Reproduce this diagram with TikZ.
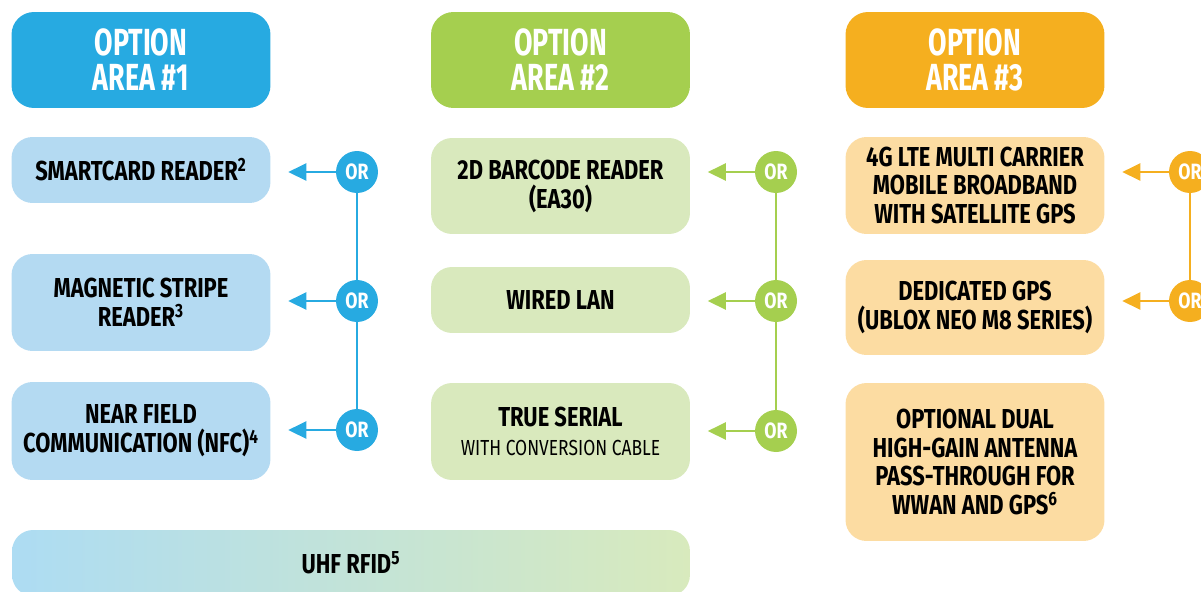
\documentclass[tikz,border=0pt]{standalone}
\usepackage{fontspec}
\newfontfamily\condfont[FakeStretch=0.8]{Fira Sans}
\newfontfamily\headfont[FakeStretch=0.71]{Fira Sans}
\usetikzlibrary{positioning, arrows.meta}

\definecolor{bluedark}{RGB}{39,170,225}
\definecolor{bluelight}{RGB}{180,218,242}
\definecolor{greendark}{RGB}{165,207,79}
\definecolor{greenlight}{RGB}{217,233,189}
\definecolor{orangedark}{RGB}{245,175,31}
\definecolor{orangelight}{RGB}{252,220,162}
\definecolor{uhfleft}{RGB}{173,220,243}
\definecolor{uhfright}{RGB}{216,234,189}

\begin{document}
\begin{tikzpicture}[
    x=0.02cm, y=-0.02cm,
    head/.style={
        rectangle,
        rounded corners=0.45cm,
        minimum width=5.18cm,
        minimum height=1.92cm,
        align=center,
        text=white,
        font=\headfont\bfseries\fontsize{21.5}{20}\selectfont
    },
    item/.style={
        rectangle,
        rounded corners=0.42cm,
        minimum width=5.18cm,
        align=center,
        text=black,
        inner sep=2pt,
        font=\condfont\bfseries\fontsize{15.6}{16.5}\selectfont
    },
    ornode/.style={
        circle,
        minimum size=0.84cm,
        inner sep=0pt,
        text=white,
        font=\condfont\bfseries\fontsize{12.6}{12}\selectfont
    },
    orline/.style={line width=0.055cm},
    orarrow/.style={-{Triangle[length=0.36cm, width=0.34cm]}, line width=0.055cm, shorten >=0.35cm}
]

\useasboundingbox (0,0) rectangle (1201,592);
\clip (0,0) rectangle (1201,592);

% Option area headers
\node[head, fill=bluedark] (area1) at (141,60) {OPTION\\AREA \#1};
\node[head, fill=greendark] (area2) at (560.5,60) {OPTION\\AREA \#2};
\node[head, fill=orangedark] (area3) at (975,60) {OPTION\\AREA \#3};

% Option area 1
\node[item, fill=bluelight, minimum height=1.32cm] (smart) at (141,170) {SMARTCARD READER\textsuperscript{2}};
\node[item, fill=bluelight, minimum height=1.94cm] (magstripe) at (141,302.5) {MAGNETIC STRIPE\\READER\textsuperscript{3}};
\node[item, fill=bluelight, minimum height=1.96cm] (nfc) at (141,431) {NEAR FIELD\\COMMUNICATION (NFC)\textsuperscript{4}};

% Option area 2
\node[item, fill=greenlight, minimum height=1.92cm] (barcode) at (560.5,186) {2D BARCODE READER\\(EA30)};
\node[item, fill=greenlight, minimum height=1.32cm] (lan) at (560.5,300) {WIRED LAN};
\node[item, fill=greenlight, minimum height=1.94cm] (serial) at (560.5,431.5) {TRUE SERIAL\\{\mdseries\fontsize{12.4}{16}\selectfont WITH CONVERSION CABLE}};

% Option area 3
\node[item, fill=orangelight, minimum height=1.94cm] (lte) at (975,185.5) {4G LTE MULTI CARRIER\\MOBILE BROADBAND\\WITH SATELLITE GPS};
\node[item, fill=orangelight, minimum height=1.9cm] (gps) at (975,307.5) {DEDICATED GPS\\(UBLOX NEO M8 SERIES)};
\node[item, fill=orangelight, minimum height=3.16cm] (antenna) at (975,462) {OPTIONAL DUAL\\HIGH-GAIN ANTENNA\\PASS-THROUGH FOR\\WWAN AND GPS\textsuperscript{6}};

% Shared across areas 1 and 2
\node[item, left color=uhfleft, right color=uhfright, minimum width=13.56cm, minimum height=1.32cm] (uhf) at (351,563) {UHF RFID\textsuperscript{5}};

% OR selectors
\node[ornode, fill=bluedark] (or1a) at (357,172) {OR};
\node[ornode, fill=bluedark] (or1b) at (357,301) {OR};
\node[ornode, fill=bluedark] (or1c) at (357,430) {OR};
\node[ornode, fill=greendark] (or2a) at (776,172) {OR};
\node[ornode, fill=greendark] (or2b) at (776,301) {OR};
\node[ornode, fill=greendark] (or2c) at (776,431) {OR};
\node[ornode, fill=orangedark] (or3a) at (1190,172) {OR};
\node[ornode, fill=orangedark] (or3b) at (1190,301) {OR};

% Vertical links
\draw[orline, bluedark] (or1a) -- (or1b);
\draw[orline, bluedark] (or1b) -- (or1c);
\draw[orline, greendark] (or2a) -- (or2b);
\draw[orline, greendark] (or2b) -- (or2c);
\draw[orline, orangedark] (or3a) -- (or3b);

% Arrows to the options
\draw[orarrow, bluedark] (or1a) -- (smart.east |- or1a);
\draw[orarrow, bluedark] (or1b) -- (magstripe.east |- or1b);
\draw[orarrow, bluedark] (or1c) -- (nfc.east |- or1c);
\draw[orarrow, greendark] (or2a) -- (barcode.east |- or2a);
\draw[orarrow, greendark] (or2b) -- (lan.east |- or2b);
\draw[orarrow, greendark] (or2c) -- (serial.east |- or2c);
\draw[orarrow, orangedark] (or3a) -- (lte.east |- or3a);
\draw[orarrow, orangedark] (or3b) -- (gps.east |- or3b);

\end{tikzpicture}
\end{document}
